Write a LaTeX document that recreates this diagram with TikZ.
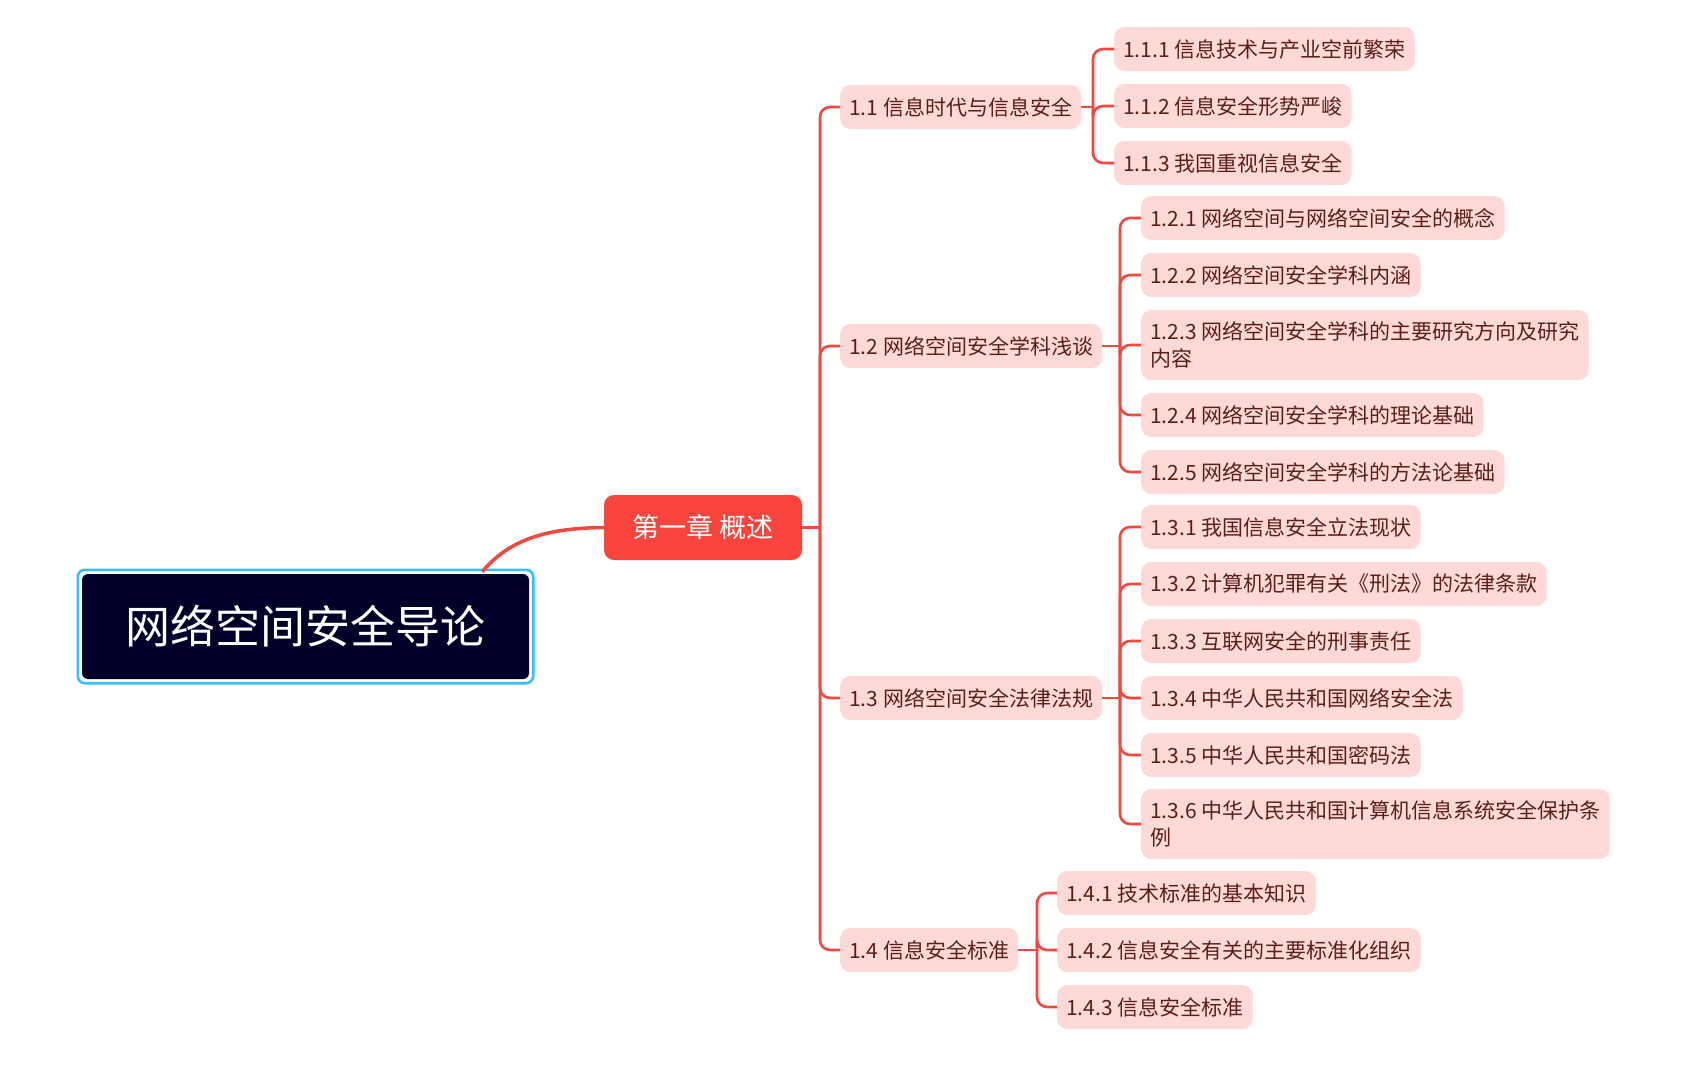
\documentclass[tikz,border=0pt]{standalone}
\usepackage{fontspec}
\setmainfont{Noto Sans CJK SC}
\definecolor{pinkfill}{HTML}{FFD9D8}
\definecolor{txtred}{HTML}{5A1F17}
\definecolor{linered}{HTML}{F5473F}
\definecolor{chapfill}{HTML}{F9443D}
\definecolor{rootfill}{HTML}{000028}
\definecolor{rootcyan}{HTML}{35BFF5}
\begin{document}
\begin{tikzpicture}[x=1pt,y=-1pt,
  topic/.style={fill=pinkfill, text=txtred, rounded corners=10pt, anchor=west,
    font=\fontsize{21}{27}\selectfont, inner xsep=9pt, inner ysep=0pt,
    minimum height=44pt, align=left},
  topictwo/.style={topic, minimum height=70pt},
  conn/.style={draw=linered, line width=2.6pt, rounded corners=10pt},
]
\useasboundingbox (0,0) rectangle (1683,1081);

% root
\node[fill=rootfill, text=white, rounded corners=6pt, minimum width=447pt, minimum height=105pt,
  inner sep=0pt, font=\fontsize{45}{50}\selectfont] (root) at (305.5,626.5) {网络空间安全导论};
\draw[rootcyan, line width=2.6pt, rounded corners=7pt]
  ([shift={(-4,4)}]root.south west) rectangle ([shift={(4,-4)}]root.north east);

% chapter
\node[fill=chapfill, text=white, rounded corners=10pt, minimum width=198pt, minimum height=65pt,
  inner sep=0pt, font=\fontsize{27}{30}\selectfont] (ch) at (703,527.5) {第一章 概述};
\draw[linered, line width=3.5pt] ([xshift=-47pt,yshift=2pt]root.north east)
  .. controls (510,538) and (550,528) .. (ch.west);

% level 2
\node[topic] (n11) at (840,107) {1.1 信息时代与信息安全};
\node[topic] (n12) at (840,346) {1.2 网络空间安全学科浅谈};
\node[topic] (n13) at (840,698) {1.3 网络空间安全法律法规};
\node[topic] (n14) at (840,950) {1.4 信息安全标准};

% level 3
\node[topic] (n111) at (1114,49) {1.1.1 信息技术与产业空前繁荣};
\node[topic] (n112) at (1114,106) {1.1.2 信息安全形势严峻};
\node[topic] (n113) at (1114,163) {1.1.3 我国重视信息安全};

\node[topic] (n121) at (1141,218) {1.2.1 网络空间与网络空间安全的概念};
\node[topic] (n122) at (1141,275) {1.2.2 网络空间安全学科内涵};
\node[topictwo] (n123) at (1141,345) {1.2.3 网络空间安全学科的主要研究方向及研究\\内容};
\node[topic] (n124) at (1141,415) {1.2.4 网络空间安全学科的理论基础};
\node[topic] (n125) at (1141,472) {1.2.5 网络空间安全学科的方法论基础};

\node[topic] (n131) at (1141,527) {1.3.1 我国信息安全立法现状};
\node[topic] (n132) at (1141,584) {1.3.2 计算机犯罪有关《刑法》的法律条款};
\node[topic] (n133) at (1141,641) {1.3.3 互联网安全的刑事责任};
\node[topic] (n134) at (1141,698) {1.3.4 中华人民共和国网络安全法};
\node[topic] (n135) at (1141,755) {1.3.5 中华人民共和国密码法};
\node[topictwo] (n136) at (1141,824) {1.3.6 中华人民共和国计算机信息系统安全保护条\\例};

\node[topic] (n141) at (1057,893) {1.4.1 技术标准的基本知识};
\node[topic] (n142) at (1057,950) {1.4.2 信息安全有关的主要标准化组织};
\node[topic] (n143) at (1057,1007) {1.4.3 信息安全标准};

% connectors
\coordinate (tr) at (820,527.5);
\draw[conn] (ch.east) -- (tr);
\foreach \c in {n11,n12,n13,n14} \draw[conn] (tr) |- (\c.west);

\coordinate (b11) at (1093,107);
\draw[conn] (n11.east) -- (b11);
\foreach \c in {n111,n112,n113} \draw[conn] (b11) |- (\c.west);

\coordinate (b12) at (1120,346);
\draw[conn] (n12.east) -- (b12);
\foreach \c in {n121,n122,n123,n124,n125} \draw[conn] (b12) |- (\c.west);

\coordinate (b13) at (1120,698);
\draw[conn] (n13.east) -- (b13);
\foreach \c in {n131,n132,n133,n134,n135,n136} \draw[conn] (b13) |- (\c.west);

\coordinate (b14) at (1037,950);
\draw[conn] (n14.east) -- (b14);
\foreach \c in {n141,n142,n143} \draw[conn] (b14) |- (\c.west);
\end{tikzpicture}
\end{document}
